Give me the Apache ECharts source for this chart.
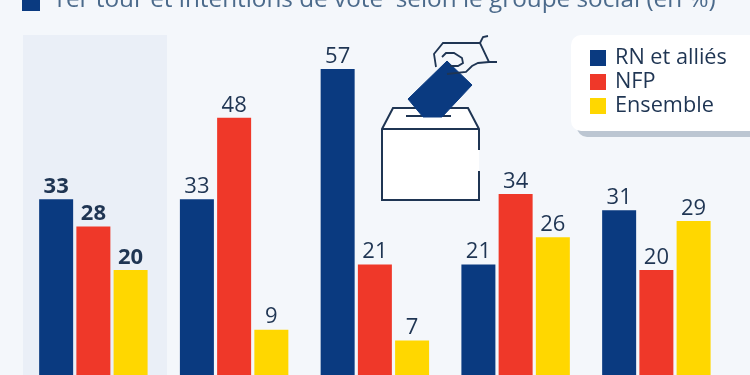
<!DOCTYPE html>
<html>
<head>
<meta charset="utf-8">
<style>html,body{margin:0;padding:0;background:#f4f7fb;overflow:hidden}#main{width:750px;height:375px}</style>
<script src="https://cdn.jsdelivr.net/npm/echarts@6/dist/echarts.min.js"></script>
</head>
<body>
<div id="main"></div>
<script>
var groups = ['Ensemble', 'Groupe 2', 'Groupe 3', 'Groupe 4', 'Groupe 5'];
var rn = [33, 33, 57, 21, 31];
var nfp = [28, 48, 21, 34, 20];
var ens = [20, 9, 7, 26, 29];
var titre = '1er tour et intentions de vote  selon le groupe social (en %)';
var font = '"Open Sans"';
var navy = '#0a3a80', rouge = '#ef3829', jaune = '#ffd700', encre = '#1f3553';

function bar(name, data, color) {
	return {
		name: name, type: 'bar', barWidth: 34, barGap: '9.5%', z: 3,
		// premier groupe en gras
		data: data.map(function (v, i) {
			return i == 0 ? {value: v, label: {fontWeight: 'bold'}} : v;
		}),
		itemStyle: {color: color},
		label: {show: true, position: 'top', distance: 1.5, fontFamily: font, fontSize: 22, color: encre}
	};
}
function trait(points, z, w) {
	return {type: 'polyline', z: z, shape: {points: points}, style: {fill: 'none', stroke: encre, lineWidth: w || 2}};
}

var chart = echarts.init(document.getElementById('main'));
chart.setOption({
	animation: false,
	backgroundColor: '#f4f7fb',
	title: {
		text: titre, left: 52, top: -12, padding: 0,
		textStyle: {fontFamily: font, fontSize: 24.3, fontWeight: 'normal', color: '#4b6a8b'}
	},
	legend: {
		left: 590, top: 47, orient: 'vertical', itemWidth: 16, itemHeight: 16, itemGap: 2, padding: 0,
		icon: 'rect', selectedMode: false, z: 20,
		textStyle: {fontFamily: font, fontSize: 21.7, color: encre, padding: [0, 0, 0, 4]}
	},
	grid: {left: 23, width: 703.75, top: 69, height: 309.5, outerBoundsMode: 'none'},
	xAxis: {type: 'category', data: groups, axisLine: {show: false}, axisTick: {show: false}, axisLabel: {show: false}},
	yAxis: {type: 'value', min: 0, max: 57, show: false, splitLine: {show: false}},
	series: [bar('RN et alliés', rn, navy), bar('NFP', nfp, rouge), bar('Ensemble', ens, jaune)],
	graphic: [
		{type: 'rect', z: 0, shape: {x: 23, y: 35, width: 144, height: 340}, style: {fill: '#eaeff7'}},
		{type: 'rect', z: 1, shape: {x: 22, y: -6, width: 18, height: 17}, style: {fill: navy}},
		// cartouche de legende
		{type: 'rect', z: 10, shape: {x: 577, y: 41, width: 190, height: 96, r: 10}, style: {fill: '#bcc6d2'}},
		{type: 'rect', z: 11, shape: {x: 571, y: 35, width: 190, height: 96, r: 10}, style: {fill: '#ffffff'}},
		// urne
		{type: 'polygon', z: 5, shape: {points: [[382, 129], [393, 108], [468, 108], [479, 129], [479, 200], [382, 200]]}, style: {fill: '#ffffff'}},
		trait([[479, 150], [479, 129], [468, 108], [393, 108], [382, 129], [382, 200], [479, 200], [479, 171]], 6),
		trait([[382, 129], [479, 129]], 6),
		trait([[406, 116], [451, 116]], 6),
		// bulletin
		{type: 'polygon', z: 7, shape: {points: [[447, 61], [472, 85], [442, 117], [423, 117], [408, 99]]}, style: {fill: navy, stroke: navy, lineWidth: 1, lineJoin: 'round'}},
		// main
		trait([[436, 67], [434, 54], [443, 43], [480, 43], [489, 62], [497, 62]], 8, 1.8),
		trait([[480, 43], [483, 37], [488, 36]], 8, 1.8),
		trait([[489, 62], [478, 63], [472, 66], [466, 72], [447, 74]], 8, 1.8),
		trait([[442, 57], [446, 53], [454, 53], [462, 58], [463, 63], [458, 66], [450, 66]], 8, 1.8)
	]
});
</script>
</body>
</html>
